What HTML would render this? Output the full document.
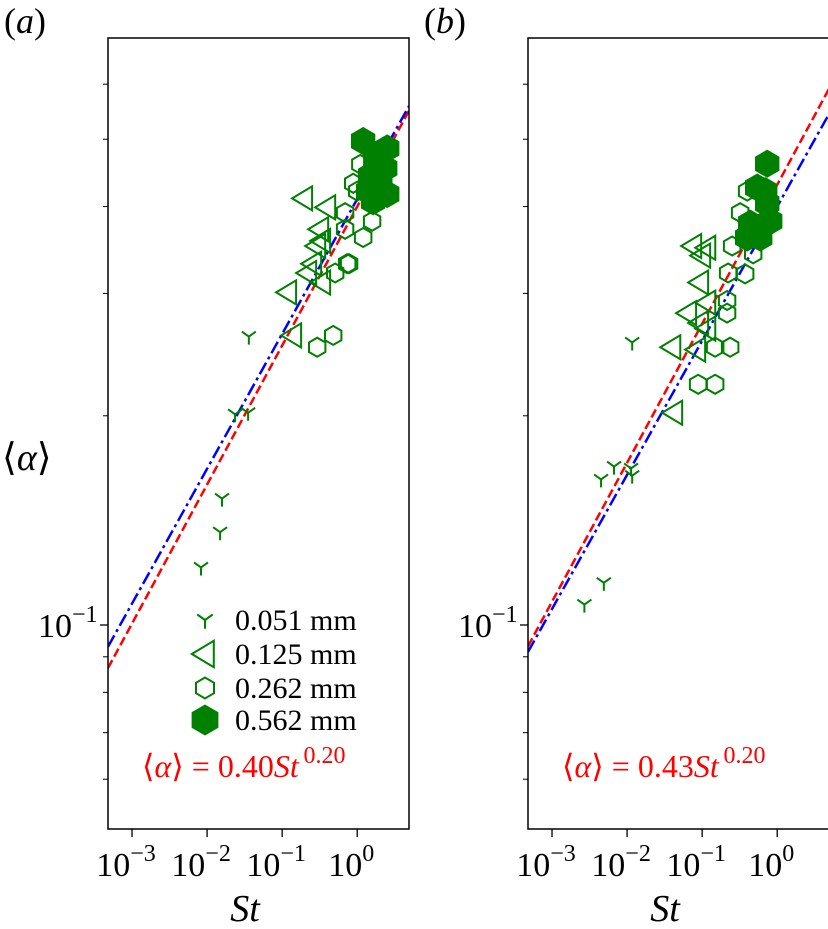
<!DOCTYPE html>
<html><head><meta charset="utf-8">
<style>
html,body{margin:0;padding:0;background:#fff;}
svg{display:block;font-family:"Liberation Serif",serif;}
</style></head>
<body>
<svg id="chart" width="828" height="929" viewBox="0 0 828 929" xmlns="http://www.w3.org/2000/svg"></svg>
<script>
// ---- data ----
const xTickLabels = ["-3","-2","-1","0"];
const yMinorTicks = [0.06,0.07,0.08,0.09,0.2,0.3,0.4,0.5,0.6];
const legendLabels = ["0.051 mm","0.125 mm","0.262 mm","0.562 mm"];
// panel a
const aSt051 = [0.036,0.0236,0.0352,0.0158,0.0149,0.0083];
const aAl051 = [0.26,0.201,0.202,0.152,0.136,0.121];
const aSt125 = [0.196,0.398,0.321,0.341,0.293,0.259,0.222,0.341,0.120,0.140];
const aAl125 = [0.411,0.399,0.371,0.357,0.351,0.331,0.321,0.311,0.301,0.261];
const aSt262 = [1.10,0.885,1.0,0.69,0.69,1.58,1.20,0.736,0.78,0.509,0.479,0.293];
const aAl262 = [0.460,0.432,0.421,0.392,0.371,0.381,0.361,0.331,0.331,0.321,0.261,0.251];
const aSt562 = [1.20,2.51,2.36,2.03,2.51,1.63,1.49,1.74,1.40];
const aAl562 = [0.497,0.485,0.454,0.431,0.417,0.407,0.443,0.464,0.421];
// panel b
const bSt051 = [0.0117,0.0045,0.0067,0.0113,0.0117,0.0049,0.0027];
const bAl051 = [0.255,0.162,0.169,0.168,0.164,0.115,0.107];
const bSt125 = [0.0759,0.117,0.1,0.094,0.117,0.065,0.094,0.117,0.040,0.0858,0.0424];
const bAl125 = [0.351,0.349,0.340,0.311,0.291,0.281,0.272,0.267,0.251,0.249,0.202];
const bSt262 = [0.398,0.321,0.251,0.222,0.374,0.215,0.215,0.149,0.236,0.0885,0.149,0.479];
const bAl262 = [0.421,0.392,0.351,0.321,0.32,0.293,0.281,0.251,0.251,0.222,0.222,0.342];
const bSt562 = [0.736,0.541,0.692,0.736,0.807,0.437,0.541,0.593,0.398];
const bAl562 = [0.461,0.426,0.421,0.404,0.381,0.378,0.369,0.361,0.361];
// fits: [coefficient, exponent]
const aRedFit = [0.40,0.20], aBlueFit = [0.41,0.194];
const bRedFit = [0.43,0.20], bBlueFit = [0.40,0.193];
const fitLabels = ["0.40","0.43"];

const NS="http://www.w3.org/2000/svg";
const svg=document.getElementById('chart');
function el(tag,attrs,parent){const e=document.createElementNS(NS,tag);for(const k in attrs)e.setAttribute(k,attrs[k]);(parent||svg).appendChild(e);return e;}
const TOP=38,BOT=829,W=301;
const LXMIN=-3.32,LXMAX=0.69;
function yS(a){return 625-(Math.log10(a)+1)*695;}
function makePanel(x0,name){
  const xS=s=>x0+(Math.log10(s)-LXMIN)/(LXMAX-LXMIN)*W;
  return {x0,xS,name};
}
function hexPts(cx,cy,r){let p=[];for(let i=0;i<6;i++){const a=Math.PI/3*i+Math.PI/6;p.push((cx+r*Math.cos(a)).toFixed(1)+','+(cy+r*Math.sin(a)).toFixed(1));}return p.join(' ');}
function drawMarker(g,type,cx,cy,k){
  k=k||1;
  let m;
  if(type===0){
    m=el('path',{d:`M${cx},${cy} L${cx},${cy+8*k} M${cx},${cy} L${cx-7*k},${cy-5*k} M${cx},${cy} L${cx+7*k},${cy-5*k}`,stroke:'green','stroke-width':2,fill:'none'},g);
  }else if(type===1){
    m=el('polygon',{points:`${cx-12*k},${cy} ${cx+8*k},${cy-12*k} ${cx+8*k},${cy+12*k}`,stroke:'green','stroke-width':2,fill:'none'},g);
  }else if(type===2){
    m=el('polygon',{points:hexPts(cx,cy,9.5*k),stroke:'green','stroke-width':2,fill:'none'},g);
  }else{
    m=el('polygon',{points:hexPts(cx,cy,13.5*k),stroke:'green','stroke-width':1,fill:'green'},g);
  }
  return m;
}
function drawPanel(P,sets,red,blue,fitLabel,letter){
  const g=el('g',{});
  
  
  const clipId='clip'+P.name;
  const cp=el('clipPath',{id:clipId},g);el('rect',{x:P.x0,y:TOP,width:W,height:BOT-TOP},cp);
  const sA=Math.pow(10,LXMIN),sB=Math.pow(10,LXMAX);
  const r=el('line',{x1:P.xS(sA),y1:yS(red[0]*Math.pow(sA,red[1])),x2:P.xS(sB),y2:yS(red[0]*Math.pow(sB,red[1])),stroke:'red','stroke-width':2.5,'stroke-dasharray':'9,4','clip-path':`url(#${clipId})`},g);
  
  
  const b=el('line',{x1:P.xS(sA),y1:yS(blue[0]*Math.pow(sA,blue[1])),x2:P.xS(sB),y2:yS(blue[0]*Math.pow(sB,blue[1])),stroke:'blue','stroke-width':2.5,'stroke-dasharray':'13,4,3,4','clip-path':`url(#${clipId})`},g);
  
  
  sets.forEach((s,t)=>{
    const sg=el('g',{'clip-path':`url(#${clipId})`},g);
    
    
    s[0].forEach((st,i)=>{const m=drawMarker(sg,t,P.xS(st),yS(s[1][i]));
      
      });
  });
  el('rect',{x:P.x0,y:TOP,width:W,height:BOT-TOP,fill:'none',stroke:'#000','stroke-width':1.5},g);
  xTickLabels.forEach(l=>{
    const x=P.xS(Math.pow(10,+l));
    el('line',{x1:x,y1:BOT,x2:x,y2:BOT+8,stroke:'#000','stroke-width':1.3},g);
    const t=el('text',{x:x-6,y:BOT+47,'font-size':34,'text-anchor':'middle'},g);
    
    
    t.innerHTML='10<tspan dy="-15" font-size="24">'+(l==='0'?'0':'\u2212'+l.slice(1))+'</tspan>';
  });
  el('line',{x1:P.x0,y1:yS(0.1),x2:P.x0-8,y2:yS(0.1),stroke:'#000','stroke-width':1.3},g);
  yMinorTicks.forEach(v=>{el('line',{x1:P.x0,y1:yS(v),x2:P.x0-5,y2:yS(v),stroke:'#000','stroke-width':1},g);});
  const yl=el('text',{x:P.x0-70,y:yS(0.1)+12,'font-size':34},g);
  
  
  yl.innerHTML='10<tspan dy="-15" font-size="24">\u22121</tspan>';
  const xt=el('text',{x:P.x0+137,y:BOT+92,'font-size':38,'font-style':'italic','text-anchor':'middle'},g);
  
  
  xt.textContent='St';
  const pl=el('text',{x:P.x0-104,y:33,'font-size':36},g);
  
  
  pl.innerHTML='(<tspan font-style="italic">'+letter+'</tspan>)';
  const ft=el('text',{x:P.x0+34,y:777,'font-size':32,fill:'red'},g);
  
  
  ft.innerHTML='\u27E8<tspan font-style="italic">\u03B1</tspan>\u27E9 = '+fitLabel+'<tspan font-style="italic">St</tspan><tspan dy="-14" font-size="24">\u20090.20</tspan>';
}
const PA=makePanel(108,'a'),PB=makePanel(528,'b');
drawPanel(PA,[[aSt051,aAl051],[aSt125,aAl125],[aSt262,aAl262],[aSt562,aAl562]],aRedFit,aBlueFit,fitLabels[0],'a');
drawPanel(PB,[[bSt051,bAl051],[bSt125,bAl125],[bSt262,bAl262],[bSt562,bAl562]],bRedFit,bBlueFit,fitLabels[1],'b');
const yt=el('text',{x:2,y:470,'font-size':38});


yt.innerHTML='\u27E8<tspan font-style="italic">\u03B1</tspan>\u27E9';
const lg=el('g',{});


const legY=[620,654,688,720];
legendLabels.forEach((l,i)=>{
  const e=el('g',{},lg);
  
  
  drawMarker(e,i,205,legY[i],1.1);
  const t=el('text',{x:235,y:legY[i]+10,'font-size':30},e);
  t.textContent=l;
});
</script>
</body></html>
